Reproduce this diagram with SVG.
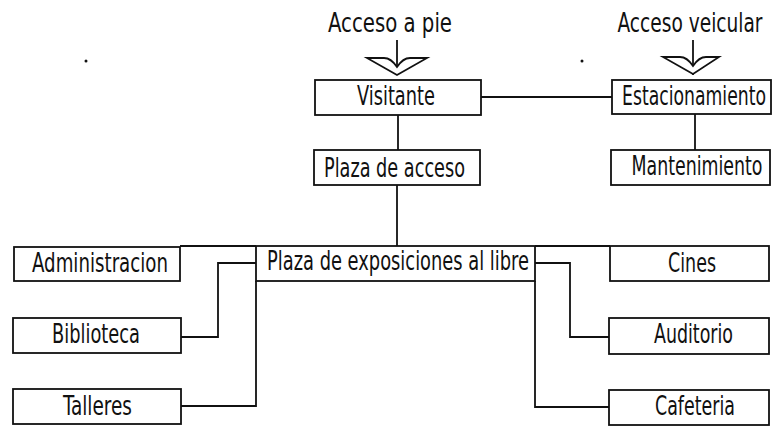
<svg xmlns="http://www.w3.org/2000/svg" width="774" height="428" viewBox="0 0 774 428">
<style>
.box{fill:#fff;stroke:#111;stroke-width:1.8}
.lbl{font-family:"DejaVu Sans Condensed","Liberation Sans",sans-serif;font-size:26px;fill:#111;text-anchor:middle}
.sm{font-size:18px}
.con{fill:none;stroke:#111;stroke-width:1.8}
.arr{fill:#fff;stroke:#111;stroke-width:1.8;stroke-linejoin:miter}
</style>
<rect width="774" height="428" fill="#fff"/>
<g id="connectors">
<path class="con" d="M481,97 H612"/>
<path class="con" d="M398,115 V150"/>
<path class="con" d="M397,185 V246"/>
<path class="con" d="M695,114 V150"/>
<path class="con" d="M180,246 H256"/>
<path class="con" d="M256,263 H218 V337 H181"/>
<path class="con" d="M256,281 V406 H181"/>
<path class="con" d="M535,246 H610"/>
<path class="con" d="M535,263 H570 V337 H609"/>
<path class="con" d="M535,281 V407 H609"/>
</g>
<g id="acceso-pie">
<text class="lbl" x="390" y="32" textLength="124" lengthAdjust="spacingAndGlyphs">Acceso a pie</text>
<path class="con" d="M397,40 V75"/>
<path class="arr" d="M367,58 L384,58 Q391,58 397,67 Q403,58 410,58 L427,58 L397,75 Z"/>
</g>
<g id="acceso-veicular">
<text class="lbl sm" transform="translate(690,32) scale(1,1.44)" x="0" y="0" textLength="145" lengthAdjust="spacingAndGlyphs">Acceso veicular</text>
<path class="con" d="M693,40 V75"/>
<path class="arr" d="M663,57 L680,57 Q687,57 693,66 Q699,57 706,57 L719,57 L693,74 Z"/>
</g>
<g id="visitante">
<rect class="box" x="315" y="80" width="166" height="35"/>
<text class="lbl" x="396" y="105" textLength="78" lengthAdjust="spacingAndGlyphs">Visitante</text>
</g>
<g id="plaza-acceso">
<rect class="box" x="314" y="150" width="166" height="35"/>
<text class="lbl" x="394.5" y="177" textLength="141" lengthAdjust="spacingAndGlyphs">Plaza de acceso</text>
</g>
<g id="estacionamiento">
<rect class="box" x="612" y="80" width="159" height="34"/>
<text class="lbl sm" transform="translate(694,105) scale(1,1.44)" x="0" y="0" textLength="144" lengthAdjust="spacingAndGlyphs">Estacionamiento</text>
</g>
<g id="mantenimiento">
<rect class="box" x="611" y="150" width="159" height="35"/>
<text class="lbl sm" transform="translate(697,175) scale(1,1.44)" x="0" y="0" textLength="131" lengthAdjust="spacingAndGlyphs">Mantenimiento</text>
</g>
<g id="plaza-exposiciones">
<rect class="box" x="256" y="246" width="279" height="35"/>
<text class="lbl" x="398" y="270" textLength="262" lengthAdjust="spacingAndGlyphs">Plaza de exposiciones al libre</text>
</g>
<g id="administracion">
<rect class="box" x="14" y="247" width="166" height="34"/>
<text class="lbl" x="100" y="272" textLength="136" lengthAdjust="spacingAndGlyphs">Administracion</text>
</g>
<g id="biblioteca">
<rect class="box" x="13" y="318" width="168" height="35"/>
<text class="lbl" x="96" y="343" textLength="88" lengthAdjust="spacingAndGlyphs">Biblioteca</text>
</g>
<g id="talleres">
<rect class="box" x="13" y="389" width="168" height="35"/>
<text class="lbl" x="97.5" y="415" textLength="69" lengthAdjust="spacingAndGlyphs">Talleres</text>
</g>
<g id="cines">
<rect class="box" x="610" y="246" width="159" height="35"/>
<text class="lbl" x="692" y="272" textLength="48" lengthAdjust="spacingAndGlyphs">Cines</text>
</g>
<g id="auditorio">
<rect class="box" x="609" y="318" width="160" height="36"/>
<text class="lbl" x="693.5" y="343" textLength="79" lengthAdjust="spacingAndGlyphs">Auditorio</text>
</g>
<g id="cafeteria">
<rect class="box" x="609" y="390" width="160" height="35"/>
<text class="lbl" x="695" y="415" textLength="80" lengthAdjust="spacingAndGlyphs">Cafeteria</text>
</g>
<circle cx="86" cy="61" r="1.5" fill="#111"/>
<circle cx="582" cy="61" r="1.5" fill="#111"/>
</svg>
